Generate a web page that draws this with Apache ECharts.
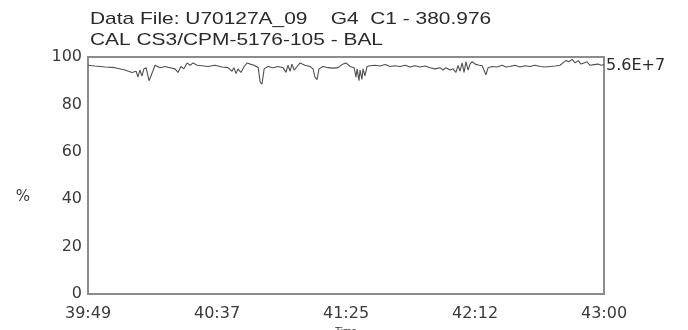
<!DOCTYPE html>
<html>
<head>
<meta charset="utf-8">
<script src="https://cdn.jsdelivr.net/npm/echarts@6/dist/echarts.min.js"></script>
<style>
html,body{margin:0;padding:0;background:#fff;}
#chart{width:688px;height:330px;}
</style>
</head>
<body>
<div id="chart"></div>
<script>
// Seconds elapsed since 39:49
var timeSec = [0,2.6,6.3,10,13.7,16.3,17.8,18.5,19.2,20,20.7,21.5,22.6,23.3,24,24.8,26.7,28.5,30.4,32.2,33.3,34.4,35.5,36.7,37.8,38.9,40.4,42.2,44.4,47,49.6,51.8,53.3,54,54.8,55.5,56.6,57.8,58.9,60,61.5,63,63.7,64.4,65.2,66.6,68.5,70.3,72.2,73.3,74,74.8,75.5,76.3,77.4,78.5,80.3,82.2,83.3,84,84.8,85.5,87,88.8,90.7,92.6,94,95.5,97,98.5,99.2,99.6,100.3,100.7,101.4,101.8,102.5,103.3,104.4,106.2,108.1,110,111.8,113.6,115.5,117.4,119.2,121,122.9,124.8,126.6,128.5,130.3,131.4,132.5,134,135.1,136.2,137,137.7,138.5,139.2,139.9,140.7,141.4,142.2,143.3,144.8,145.9,146.6,147.3,148.1,149.6,151.4,153.3,154.7,156.2,158,159.9,161.8,163.6,165.5,167.3,169.2,171,172.9,174.7,175.8,176.9,178,179.2,180.3,181.4,182.5,183.6,184.7,185.8,187.3,188.8,189.9,191];
var pctValues = [96.5,96.2,95.8,95.5,94.5,93.5,94,91.5,94.5,92,95,95.5,90,89.5,94,96.5,95.5,96,95.5,95,93.5,96,95,97.5,96.5,97.5,96.5,96.3,96,96.5,95.8,95.5,94,95.5,93,95,93.5,96,97.5,97,96.5,95.5,89.5,88.5,95,96,95.5,96,95.5,93.5,96.5,94,97,94.5,96,97.5,96.5,96,95,91.5,90.5,95,96,95.5,95.3,95.5,96.8,97.5,96,95.5,91.5,95,90,94.5,90.5,95,92,96,96.3,96.5,96.2,96.8,96,96.3,96,96.5,95.8,96.3,95.8,96.2,95.5,95,95.5,94.5,95.5,94.5,95,93.5,96.5,94,97.5,93.5,98,94.5,97,98,97,96.5,96.3,95.5,92.5,95.5,96,95.8,96.5,95.8,96,96.5,95.8,96.3,96,96.5,96,95.8,96,96.2,96.5,97.5,98.5,98,99,97.5,98.5,97,97.5,98,96.5,96.8,97,96.5,96.8];
var xTickLabels = ['39:49','40:37','41:25','42:12','43:00'];
var yTicks = [0,20,40,60,80,100];
var titleLine1 = 'Data File: U70127A_09    G4  C1 - 380.976';
var titleLine2 = 'CAL CS3/CPM-5176-105 - BAL';
var maxLabel = '5.6E+7';

var seriesData = timeSec.map(function(t,i){return [t,pctValues[i]];});
var span = 191, step = span/(xTickLabels.length-1);

var titleFont = '17px "Liberation Sans"';
var cv = document.createElement('canvas').getContext('2d');
cv.font = titleFont;
var sx = 293 / cv.measureText(titleLine2).width;

var chart = echarts.init(document.getElementById('chart'), null, {renderer:'canvas'});
chart.setOption({
  backgroundColor:'#fff',
  animation:false,
  grid:{left:88,right:84,top:57,bottom:36,outerBoundsMode:'none',containLabel:false,show:true,borderColor:'#8c8c8c',borderWidth:2,backgroundColor:'transparent'},
  xAxis:{
    type:'value',min:0,max:span,interval:step,
    axisLine:{show:false},axisTick:{show:false},splitLine:{show:false},
    axisLabel:{margin:12,color:'#3a3a3a',fontFamily:'DejaVu Sans',fontSize:16,showMinLabel:true,showMaxLabel:true,
      formatter:function(v){return xTickLabels[Math.round(v/step)]||'';}},
    name:'Time',nameLocation:'middle',nameGap:33,
    nameTextStyle:{fontFamily:'Liberation Sans',fontSize:10,color:'#333'}
  },
  yAxis:{
    type:'value',min:yTicks[0],max:yTicks[yTicks.length-1],interval:yTicks[1]-yTicks[0],
    axisLine:{show:false},axisTick:{show:false},splitLine:{show:false},
    axisLabel:{margin:6,color:'#3a3a3a',fontFamily:'DejaVu Sans',fontSize:16},
    name:'%',nameLocation:'middle',nameRotate:0,nameGap:58,
    nameTextStyle:{fontFamily:'DejaVu Sans',fontSize:15,color:'#3a3a3a',verticalAlign:'top',padding:[14,0,0,0]}
  },
  graphic:[
    {type:'text',x:90,y:19,scaleX:sx,style:{text:titleLine1,font:titleFont,fill:'#2a2a2a',align:'left',verticalAlign:'middle'}},
    {type:'text',x:90,y:40,scaleX:sx,style:{text:titleLine2,font:titleFont,fill:'#2a2a2a',align:'left',verticalAlign:'middle'}},
    {type:'text',x:606,y:66,style:{text:maxLabel,font:'16px "DejaVu Sans"',fill:'#2a2a2a',align:'left',verticalAlign:'middle'}}
  ],
  series:[{
    type:'line',data:seriesData,showSymbol:false,symbol:'none',
    lineStyle:{color:'#505050',width:1.1},
    clip:true
  }]
});
</script>
</body>
</html>
